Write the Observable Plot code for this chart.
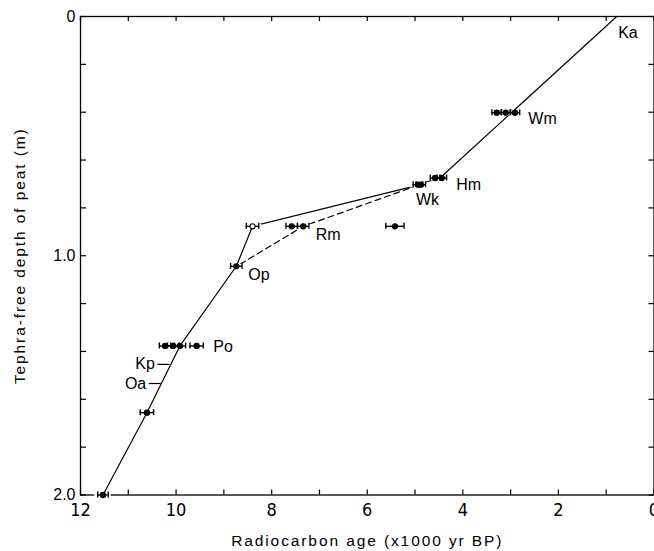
<!DOCTYPE html>
<html>
<head>
<meta charset="utf-8">
<script src="https://cdn.jsdelivr.net/npm/d3@7"></script>
<script src="https://cdn.jsdelivr.net/npm/@observablehq/plot@0.6"></script>
<style>
  html, body { margin: 0; padding: 0; background: #fff; }
  #chart svg { display: block; }
</style>
</head>
<body>
<div id="chart"></div>
<script>
// ---- data ----
const xDomain = [12, 0];           // radiocarbon age, x1000 yr BP
const yDomain = [0, 2];            // tephra-free depth of peat, m
const xMajorTicks = [12, 11, 10, 9, 8, 7, 6, 5, 4, 3, 2, 1, 0];
const xTickLabels = [12, 10, 8, 6, 4, 2, 0];
const yMinorTicks = [0, 0.2, 0.4, 0.6, 0.8, 1.0, 1.2, 1.4, 1.6, 1.8, 2.0];
const yTickLabels = [0, 1, 2];

// dated samples: age, depth, half-width of error bar, open marker
const sampleAge   = [3.29, 3.10, 2.91, 4.58, 4.44, 4.94, 4.88, 8.40, 7.58, 7.34, 5.42, 8.74, 10.23, 10.06, 9.92, 9.57, 10.61, 11.53];
const sampleDepth = [0.402, 0.402, 0.402, 0.675, 0.675, 0.703, 0.703, 0.877, 0.877, 0.877, 0.877, 1.044, 1.377, 1.377, 1.377, 1.377, 1.656, 2.0];
const sampleErr   = [0.10, 0.10, 0.10, 0.10, 0.10, 0.10, 0.10, 0.13, 0.12, 0.12, 0.19, 0.12, 0.12, 0.12, 0.12, 0.14, 0.14, 0.11];
const sampleOpen  = [false, false, false, false, false, false, false, true, false, false, false, false, false, false, false, false, false, false];

// age-depth curves
const solidAge   = [0.78, 4.45, 4.93, 8.40, 8.74, 9.92, 10.61, 11.53];
const solidDepth = [0.0, 0.670, 0.705, 0.877, 1.044, 1.377, 1.656, 2.0];
const dashAge    = [4.93, 7.34, 8.70];
const dashDepth  = [0.705, 0.877, 1.040];

// tephra labels
const tephraName  = ["Ka", "Wm", "Hm", "Wk", "Rm", "Op", "Po"];
const tephraAge   = [0.75, 2.63, 4.14, 4.98, 7.08, 8.49, 9.22];
const tephraDepth = [0.067, 0.427, 0.703, 0.768, 0.914, 1.081, 1.381];
// tephras marked with a leader line (label to the left)
const leaderName  = ["Kp", "Oa"];
const leaderAge   = [10.13, 10.31];
const leaderDepth = [1.454, 1.534];

const xTitle = "Radiocarbon age (x1000 yr BP)";
const yTitle = "Tephra-free depth of peat (m)";

// ---- tables built from the arrays ----
const samples = sampleAge.map((a, i) => ({age: a, depth: sampleDepth[i], lo: a - sampleErr[i], hi: a + sampleErr[i], open: sampleOpen[i]}));
const solid = solidAge.map((a, i) => ({age: a, depth: solidDepth[i]}));
const dashed = dashAge.map((a, i) => ({age: a, depth: dashDepth[i]}));
const tephras = tephraName.map((n, i) => ({name: n, age: tephraAge[i], depth: tephraDepth[i]}));
const leaders = leaderName.map((n, i) => ({name: n, age: leaderAge[i], depth: leaderDepth[i]}));

const sans = "Liberation Sans, Arial, Helvetica, sans-serif";
const narrow = "Liberation Sans Narrow, DejaVu Sans Condensed, Arial Narrow, sans-serif";
const yBottom = yDomain[1], yTop = yDomain[0];
const xLeft = xDomain[0], xRight = xDomain[1];

const chart = Plot.plot({
  width: 654,
  height: 551,
  marginLeft: 80,
  marginRight: 0.5,
  marginTop: 16,
  marginBottom: 56.5,
  style: {background: "#fff", color: "#000"},
  x: {domain: xDomain, axis: null},
  y: {domain: yDomain, reverse: true, axis: null},
  marks: [
    // inward ticks on all four sides
    Plot.ruleX(xMajorTicks, {x: d => d, y1: yBottom, y2: yBottom, insetBottom: 5, stroke: "#000", strokeWidth: 1.2}),
    Plot.ruleX(xMajorTicks, {x: d => d, y1: yTop, y2: yTop, insetTop: 5, stroke: "#000", strokeWidth: 1.2}),
    Plot.ruleY(yMinorTicks, {y: d => d, x1: xLeft, x2: xLeft, insetLeft: 6, stroke: "#000", strokeWidth: 1.2}),
    Plot.ruleY(yMinorTicks, {y: d => d, x1: xRight, x2: xRight, insetRight: 5, stroke: "#000", strokeWidth: 1.2}),
    Plot.frame({stroke: "#000", strokeWidth: 1.3}),
    // tick labels
    Plot.text(xTickLabels, {x: d => d, frameAnchor: "bottom", dy: 8, lineAnchor: "top", text: d => String(d), fontSize: 18, fontFamily: narrow, fill: "#000"}),
    Plot.text(yTickLabels, {y: d => d, frameAnchor: "left", dx: -5, textAnchor: "end", text: d => d === 0 ? "0" : d.toFixed(1), fontSize: 16, fontFamily: sans, fill: "#000"}),
    // axis titles
    Plot.text([xTitle], {frameAnchor: "bottom", dy: 51, textAnchor: "middle", text: d => d, fontSize: 15.5, fontFamily: sans, fill: "#000"}),
    Plot.text([yTitle], {frameAnchor: "left", dx: -60, rotate: -90, textAnchor: "middle", text: d => d, fontSize: 15.5, fontFamily: sans, fill: "#000"}),
    // age-depth curves
    Plot.line(solid, {x: "age", y: "depth", stroke: "#000", strokeWidth: 1.2}),
    Plot.line(dashed, {x: "age", y: "depth", stroke: "#000", strokeWidth: 1.2, strokeDasharray: "6,4"}),
    // leader lines for Kp, Oa
    Plot.ruleY(leaders, {y: "depth", x1: "age", x2: "age", insetLeft: -12, stroke: "#000", strokeWidth: 1.2}),
    // white halo behind error bars
    Plot.ruleY(samples, {y: "depth", x1: "hi", x2: "lo", insetLeft: -3, insetRight: -3, stroke: "#fff", strokeWidth: 5}),
    // error bars
    Plot.ruleY(samples, {y: "depth", x1: "lo", x2: "hi", stroke: "#000", strokeWidth: 1.4}),
    Plot.ruleX(samples, {x: "lo", y1: "depth", y2: "depth", insetTop: -3, insetBottom: -3, stroke: "#000", strokeWidth: 1.4}),
    Plot.ruleX(samples, {x: "hi", y1: "depth", y2: "depth", insetTop: -3, insetBottom: -3, stroke: "#000", strokeWidth: 1.4}),
    // sample points
    Plot.dot(samples, {x: "age", y: "depth", r: 2.6, fill: d => d.open ? "#fff" : "#000", stroke: "#000", strokeWidth: 1.1}),
    // labels
    Plot.text(tephras, {x: "age", y: "depth", text: "name", textAnchor: "start", fontSize: 16, fontFamily: sans, fill: "#000"}),
    Plot.text(leaders, {x: "age", y: "depth", text: "name", textAnchor: "end", dx: -15, fontSize: 16, fontFamily: sans, fill: "#000"})
  ]
});

chart.querySelectorAll("text").forEach(t => {
  if (t.textContent === xTitle || t.textContent === yTitle) t.setAttribute("letter-spacing", "1.9");
});
document.getElementById("chart").append(chart);
</script>
</body>
</html>
